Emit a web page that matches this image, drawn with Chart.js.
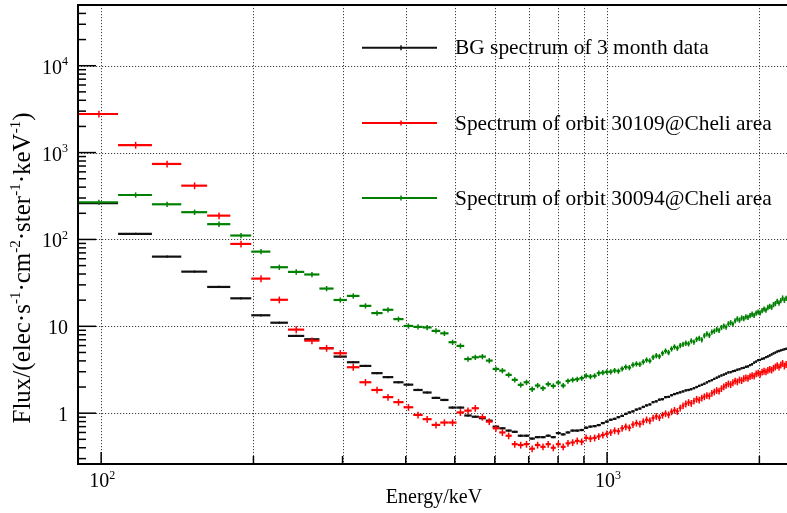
<!DOCTYPE html>
<html>
<head>
<meta charset="utf-8">
<script src="https://cdn.jsdelivr.net/npm/chart.js@4.4.1/dist/chart.umd.min.js"></script>
<style>
  html, body { margin: 0; padding: 0; background: #fff; }
</style>
</head>
<body>
<canvas id="spectrum" width="787" height="513"></canvas>
<script>
// Bin centres (keV), 18 keV wide bins
const energy = [
  99, 117, 135, 153, 171, 189, 207, 225, 243, 261,
  279, 297, 315, 333, 351, 369, 387, 405, 423, 441,
  459, 477, 495, 513, 531, 549, 567, 585, 603, 621,
  639, 657, 675, 693, 711, 729, 747, 765, 783, 801,
  819, 837, 855, 873, 891, 909, 927, 945, 963, 981,
  999, 1017, 1035, 1053, 1071, 1089, 1107, 1125, 1143, 1161,
  1179, 1197, 1215, 1233, 1251, 1269, 1287, 1305, 1323, 1341,
  1359, 1377, 1395, 1413, 1431, 1449, 1467, 1485, 1503, 1521,
  1539, 1557, 1575, 1593, 1611, 1629, 1647, 1665, 1683, 1701,
  1719, 1737, 1755, 1773, 1791, 1809, 1827, 1845, 1863, 1881,
  1899, 1917, 1935, 1953, 1971, 1989, 2007, 2025, 2043, 2061,
  2079, 2097, 2115, 2133, 2151, 2169, 2187, 2205, 2223, 2241,
  2259
]
const binWidth = 18

// BG spectrum of 3 month data
const bgFlux = [
  262, 116, 63.4, 42.6, 28.4, 21.0, 13.4, 11.0, 7.75, 7.1,
  5.6, 4.48, 3.86, 3.5, 2.89, 2.6, 2.27, 2.13, 1.85, 1.73,
  1.50, 1.42, 1.16, 1.16, 0.94, 0.91, 0.875, 0.82, 0.70, 0.67,
  0.63, 0.61, 0.55, 0.55, 0.51, 0.53, 0.53, 0.55, 0.53, 0.59,
  0.57, 0.60, 0.63, 0.63, 0.64, 0.68, 0.70, 0.71, 0.73, 0.77,
  0.80, 0.84, 0.86, 0.90, 0.93, 0.98, 1.02, 1.05, 1.10, 1.13,
  1.18, 1.23, 1.26, 1.34, 1.37, 1.43, 1.45, 1.53, 1.54, 1.61,
  1.66, 1.70, 1.74, 1.78, 1.83, 1.85, 1.89, 1.94, 2.00, 2.06,
  2.12, 2.18, 2.26, 2.34, 2.40, 2.48, 2.56, 2.64, 2.72, 2.78,
  2.86, 2.95, 2.97, 3.05, 3.08, 3.16, 3.21, 3.30, 3.32, 3.42,
  3.45, 3.58, 3.66, 3.82, 3.93, 4.08, 4.10, 4.22, 4.28, 4.42,
  4.50, 4.62, 4.75, 4.88, 4.98, 5.12, 5.20, 5.30, 5.35, 5.45,
  5.50
]

// Spectrum of orbit 30109@Cheli area
const orbit30109Flux = [
  2780, 1220, 740, 416, 188, 88.8, 35.4, 20.2, 9.16, 6.84,
  5.6, 4.9, 3.38, 2.27, 1.85, 1.53, 1.34, 1.17, 0.955, 0.853,
  0.733, 0.78, 0.78, 1.02, 1.07, 1.14, 0.90, 0.80, 0.67, 0.60,
  0.55, 0.44, 0.43, 0.44, 0.39, 0.43, 0.41, 0.44, 0.40, 0.44,
  0.41, 0.45, 0.46, 0.48, 0.47, 0.52, 0.51, 0.52, 0.54, 0.56,
  0.58, 0.60, 0.63, 0.62, 0.67, 0.70, 0.68, 0.74, 0.77, 0.75,
  0.80, 0.84, 0.82, 0.88, 0.92, 0.89, 0.95, 0.99, 0.96, 1.04,
  1.08, 1.05, 1.15, 1.22, 1.28, 1.33, 1.30, 1.38, 1.45, 1.42,
  1.50, 1.55, 1.60, 1.58, 1.70, 1.76, 1.83, 1.80, 1.92, 2.02,
  2.10, 2.18, 2.14, 2.25, 2.35, 2.30, 2.42, 2.38, 2.50, 2.56,
  2.52, 2.65, 2.72, 2.68, 2.85, 2.90, 2.82, 2.98, 3.05, 3.00,
  3.12, 3.20, 3.15, 3.30, 3.42, 3.55, 3.40, 3.60, 3.75, 3.50,
  3.65
]

// Spectrum of orbit 30094@Cheli area
const orbit30094Flux = [
  268, 325, 254, 206, 150, 111, 72.4, 47.9, 42.3, 39.5,
  27.2, 20.1, 22.4, 17.2, 14.2, 15.5, 12.1, 10.1, 9.85, 9.7,
  8.86, 8.3, 6.56, 5.95, 4.2, 4.4, 4.48, 4.03, 3.23, 3.09,
  2.76, 2.42, 2.12, 2.27, 1.89, 2.08, 1.94, 2.16, 2.06, 2.25,
  2.08, 2.35, 2.42, 2.46, 2.53, 2.69, 2.64, 2.69, 2.89, 2.93,
  2.99, 3.0, 3.1, 3.05, 3.25, 3.4, 3.35, 3.6, 3.7, 3.65,
  3.9, 4.1, 4.0, 4.4, 4.6, 4.5, 4.9, 5.2, 5.0, 5.5,
  5.8, 5.6, 6.0, 6.2, 6.4, 6.3, 6.8, 6.6, 7.1, 7.3,
  7.0, 7.8, 8.2, 7.9, 8.6, 8.8, 9.2, 9.0, 9.7, 10.1,
  9.8, 10.7, 11.0, 10.6, 11.6, 12.2, 11.8, 12.5, 12.3, 12.9,
  12.7, 13.3, 13.8, 13.4, 14.2, 14.6, 14.3, 15.2, 15.8, 15.4,
  16.5, 17.0, 16.6, 17.8, 18.3, 19.4, 18.6, 19.8, 21.2, 20.0,
  21.0
]

// relative size of the vertical error bars, per series
const relErrors = [0.03, 0.09, 0.07]

const seriesLabels = [
  'BG spectrum of 3 month data',
  'Spectrum of orbit 30109@Cheli area',
  'Spectrum of orbit 30094@Cheli area'
]
const seriesColors = ['#111111', '#ff0000', '#008000']

const xGridTicks = [100, 200, 300, 400, 500, 600, 700, 800, 900, 1000, 2000]
const xLabelTicks = [[100, '2'], [1000, '3']]
const yTicks = [[1, ''], [10, ''], [100, '2'], [1000, '3'], [10000, '4']]

const SERIF = "'Liberation Serif', 'Times New Roman', 'DejaVu Serif', serif"

// draws "10" with a superscript exponent
function drawPower(ctx, base, exp, x, y, align, size) {
  const supSize = Math.round(size * 0.62)
  ctx.font = `${size}px ${SERIF}`
  const wb = ctx.measureText(base).width
  ctx.font = `${supSize}px ${SERIF}`
  const ws = exp ? ctx.measureText(exp).width : 0
  const total = wb + ws
  let x0 = x
  if (align === 'right') x0 = x - total
  if (align === 'center') x0 = x - total / 2
  ctx.textAlign = 'left'
  ctx.textBaseline = 'alphabetic'
  ctx.font = `${size}px ${SERIF}`
  ctx.fillText(base, x0, y)
  if (exp) {
    ctx.font = `${supSize}px ${SERIF}`
    ctx.fillText(exp, x0 + wb, y - size * 0.42)
  }
}

function hline(ctx, x0, x1, y) { ctx.beginPath(); ctx.moveTo(x0, y); ctx.lineTo(x1, y); ctx.stroke() }
function vline(ctx, x, y0, y1) { ctx.beginPath(); ctx.moveTo(x, y0); ctx.lineTo(x, y1); ctx.stroke() }

// grid, ticks, labels (drawn under the data)
const framePlugin = {
  id: 'frame',
  beforeDatasetsDraw(chart) {
    const { ctx, chartArea: a, scales: { x, y } } = chart
    ctx.save()
    ctx.strokeStyle = 'rgba(0,0,0,0.75)'
    ctx.lineWidth = 1
    ctx.setLineDash([1.2, 1.8])
    xGridTicks.forEach(v => {
      const px = Math.round(x.getPixelForValue(v)) + 0.5
      vline(ctx, px, a.top, a.bottom)
    })
    yTicks.forEach(([v]) => {
      const py = Math.round(y.getPixelForValue(v)) + 0.5
      hline(ctx, a.left, a.right, py)
    })
    ctx.setLineDash([])

    // inward ticks
    ctx.strokeStyle = '#000'
    ctx.lineWidth = 1.5
    for (let d = -1; d <= 4; d++) {
      for (let m = 1; m <= 9; m++) {
        const v = m * Math.pow(10, d)
        if (v < y.min || v > y.max) continue
        const py = y.getPixelForValue(v)
        hline(ctx, a.left, a.left + (m === 1 ? 18 : 8), py)
      }
    }
    xGridTicks.forEach(v => {
      const px = x.getPixelForValue(v)
      const major = v === 100 || v === 1000
      vline(ctx, px, a.bottom, a.bottom - (major ? 12 : 8))
    })

    // tick labels
    ctx.fillStyle = '#000'
    yTicks.forEach(([v, exp]) => {
      const py = y.getPixelForValue(v)
      drawPower(ctx, exp ? '10' : String(v), exp, 68, py + 8, 'right', 20)
    })
    xLabelTicks.forEach(([v, exp]) => {
      drawPower(ctx, '10', exp, x.getPixelForValue(v) + 1, 487, 'center', 20)
    })

    // axis titles
    ctx.font = `20px ${SERIF}`
    ctx.textAlign = 'center'
    ctx.fillText('Energy/keV', 434, 503)

    const parts = [['Flux/(elec·s', 0], ['-1', 1], ['·cm', 0], ['-2', 1], ['·ster', 0], ['-1', 1], ['·keV', 0], ['-1', 1], [')', 0]]
    const size = 25, supSize = 15
    let total = 0
    parts.forEach(([t, sup]) => {
      ctx.font = `${sup ? supSize : size}px ${SERIF}`
      total += ctx.measureText(t).width
    })
    ctx.translate(30, 268)
    ctx.rotate(-Math.PI / 2)
    ctx.textAlign = 'left'
    let cx = -total / 2
    parts.forEach(([t, sup]) => {
      ctx.font = `${sup ? supSize : size}px ${SERIF}`
      ctx.fillText(t, cx, sup ? -10 : 0)
      cx += ctx.measureText(t).width
    })
    ctx.restore()
  },
  afterDraw(chart) {
    const { ctx, chartArea: a } = chart
    ctx.save()
    ctx.strokeStyle = '#000'
    ctx.lineWidth = 2
    vline(ctx, a.left, a.top, a.bottom)
    hline(ctx, a.left - 1, a.right, a.bottom)
    hline(ctx, a.left - 1, a.right, a.top)

    // legend, no box
    const rows = [47.7, 123, 198]
    chart.data.datasets.forEach((ds, i) => {
      const ly = rows[i]
      ctx.strokeStyle = ds.borderColor
      ctx.lineWidth = 2
      hline(ctx, 362, 437, ly)
      ctx.lineWidth = 1.5
      vline(ctx, 401, ly - 2.5, ly + 2.5)
      ctx.fillStyle = '#000'
      ctx.font = `21.4px ${SERIF}`
      ctx.textAlign = 'left'
      ctx.textBaseline = 'alphabetic'
      ctx.fillText(ds.label, 455, ly + 6.5)
    })
    ctx.restore()
  }
}

// histogram bins with horizontal (bin width) and vertical error bars
const errorBarPlugin = {
  id: 'errorBars',
  afterDatasetsDraw(chart) {
    const { ctx, chartArea: a, scales: { x, y } } = chart
    ctx.save()
    ctx.beginPath()
    ctx.rect(a.left, a.top, a.right - a.left, a.bottom - a.top)
    ctx.clip()
    chart.data.datasets.forEach(ds => {
      ctx.strokeStyle = ds.borderColor
      ds.data.forEach(p => {
        const x0 = x.getPixelForValue(p.x - binWidth / 2)
        const x1 = x.getPixelForValue(p.x + binWidth / 2)
        const px = x.getPixelForValue(p.x)
        const py = y.getPixelForValue(p.y)
        ctx.lineWidth = 2.2
        hline(ctx, x0, x1, py)
        ctx.lineWidth = 1.5
        vline(ctx, px, y.getPixelForValue(p.y * (1 + ds.relErr)), y.getPixelForValue(p.y * (1 - ds.relErr)))
      })
    })
    ctx.restore()
  }
}

const fluxSeries = [bgFlux, orbit30109Flux, orbit30094Flux]

new Chart(document.getElementById('spectrum'), {
  type: 'scatter',
  data: {
    datasets: fluxSeries.map((flux, i) => ({
      label: seriesLabels[i],
      data: energy.map((e, k) => ({ x: e, y: flux[k] })),
      borderColor: seriesColors[i],
      backgroundColor: seriesColors[i],
      relErr: relErrors[i],
      pointRadius: 0,
      showLine: false
    }))
  },
  options: {
    responsive: false,
    animation: false,
    layout: { padding: { top: 5, right: 0, left: 0, bottom: 0 } },
    plugins: { legend: { display: false }, tooltip: { enabled: false } },
    scales: {
      x: {
        type: 'logarithmic', min: 90, max: 2268,
        ticks: { display: false }, grid: { display: false }, border: { display: false },
        afterFit: s => { s.height = 49 }
      },
      y: {
        type: 'logarithmic', min: 0.26, max: 50000,
        ticks: { display: false }, grid: { display: false }, border: { display: false },
        afterFit: s => { s.width = 78 }
      }
    }
  },
  plugins: [framePlugin, errorBarPlugin]
})
</script>
</body>
</html>
